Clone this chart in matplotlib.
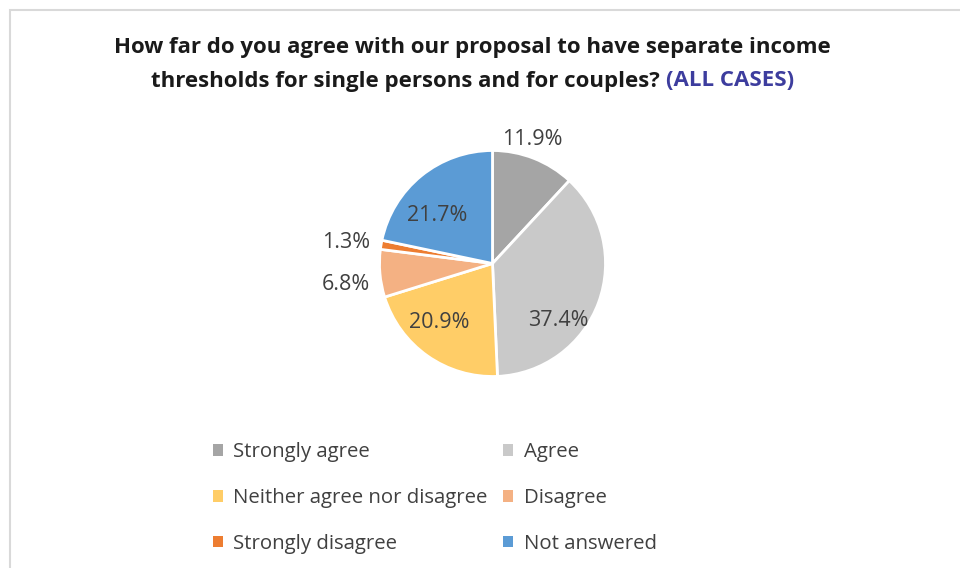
import numpy as np
import matplotlib
matplotlib.use('Agg')
import matplotlib.pyplot as plt
from matplotlib.patches import Rectangle
from matplotlib.text import Annotation

categories = ['Strongly agree', 'Agree', 'Neither agree nor disagree',
              'Disagree', 'Strongly disagree', 'Not answered']
shares = [11.9, 37.4, 20.9, 6.8, 1.3, 21.7]
colors = ['#a5a5a5', '#c9c9c9', '#ffcd67', '#f4b183', '#ed7d31', '#5b9bd5']

# where each percentage sits: (distance from centre in radii, angle in degrees)
label_pos = [(1.15, 72), (0.77, -41), (0.70, -132), (1.31, -172), (1.31, 172), (0.65, 139)]

plt.rcParams['font.family'] = ['Open Sans', 'DejaVu Sans']

W, H = 960, 568
fig = plt.figure(figsize=(W / 100, H / 100), dpi=100)

# light grey chart-area frame (only top and left edges are in view)
fig.patches.append(Rectangle((10 / W, -0.1), 1.2, 1 - 10 / H + 0.1,
                             transform=fig.transFigure, fill=False,
                             edgecolor='#d9d9d9', linewidth=1.5))

# title, second line ends with a coloured tag
fig.text(472 / W, 1 - 48 / H,
         'How far do you agree with our proposal to have separate income',
         ha='center', va='center', fontsize=16, fontweight='bold', color='#1a1a1a')
t2 = fig.text(151 / W, 1 - 81 / H, 'thresholds for single persons and for couples? ',
              ha='left', va='center', fontsize=16, fontweight='bold', color='#1a1a1a')
fig.add_artist(Annotation('(ALL CASES)', xy=(1, 0), xycoords=t2, va='bottom', ha='left',
                          fontsize=16, fontweight='bold', color='#3d3d9e'))

# pie: centre (492, 263) px, radius 113 px
r = 113
cx, cy = 492.5, 263.5
half = 1.5 * r
ax = fig.add_axes([(cx - half) / W, (H - cy - half) / H, 2 * half / W, 2 * half / H])
wedges, _ = ax.pie(shares, colors=colors, startangle=90, counterclock=False,
                   radius=1, wedgeprops=dict(edgecolor='white', linewidth=2))
ax.set_xlim(-1.5, 1.5)
ax.set_ylim(-1.5, 1.5)
ax.set_aspect('equal')
ax.axis('off')

for v, (d, a) in zip(shares, label_pos):
    ax.text(d * np.cos(np.radians(a)), d * np.sin(np.radians(a)), '{:.1f}%'.format(v),
            ha='center', va='center', fontsize=15.5, color='#404040')

# legend laid out row by row
order = [0, 2, 4, 1, 3, 5]
leg = fig.legend([wedges[i] for i in order], [categories[i] for i in order],
                 ncol=2, loc='upper left', bbox_to_anchor=(213 / W, 1 - 442 / H),
                 frameon=False, fontsize=14.7, handlelength=0.5, handleheight=0.5,
                 handletextpad=0.5, columnspacing=0.75, labelspacing=1.27,
                 borderaxespad=0, borderpad=0)
for txt in leg.get_texts():
    txt.set_color('#404040')
for h in leg.legend_handles:
    h.set_edgecolor('none')

fig.savefig('out.png', dpi=100)
